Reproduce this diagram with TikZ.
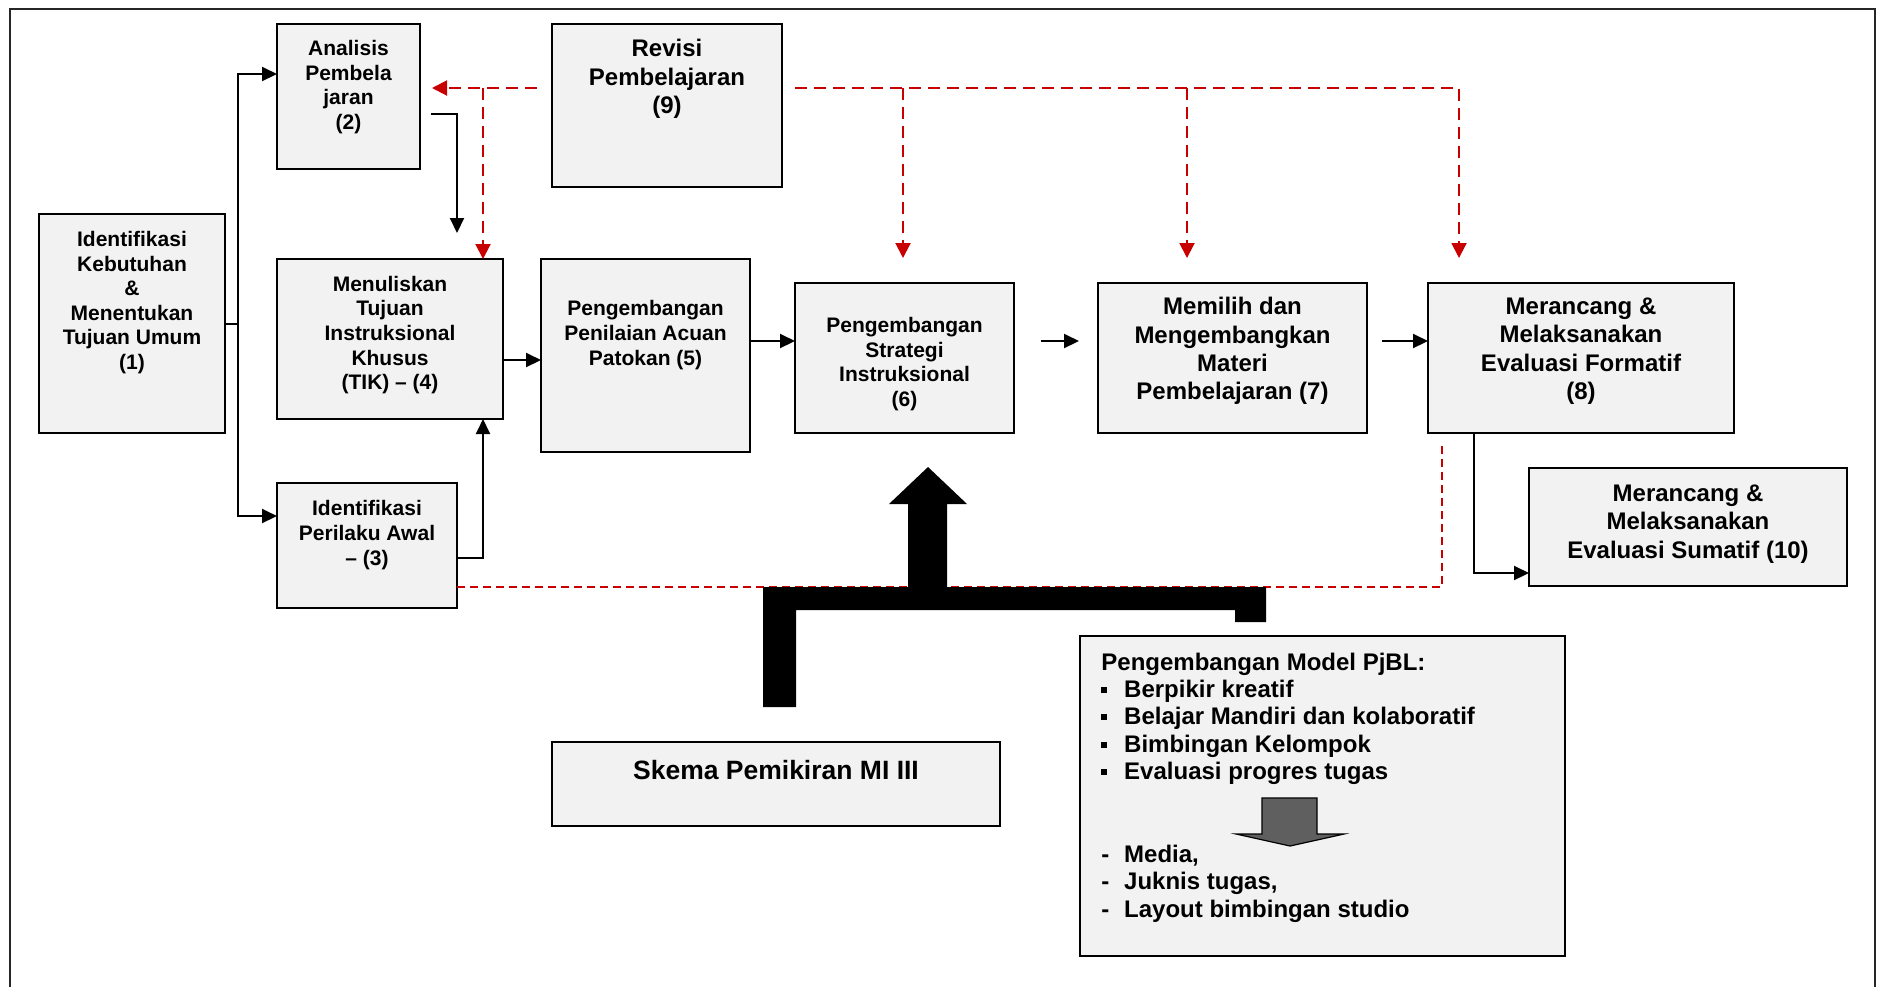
\documentclass[tikz,border=0pt]{standalone}
\usepackage{fontspec}
\setmainfont{Liberation Sans}
\usetikzlibrary{arrows.meta,calc}

\definecolor{boxfill}{HTML}{F2F2F2}
\definecolor{revred}{RGB}{200,0,0}
\definecolor{blockgrey}{HTML}{5F5F5F}

\newcommand\boxfontsmall{\bfseries\fontsize{10.5}{12.3}\selectfont}
\newcommand\boxfontlarge{\bfseries\fontsize{12}{14.2}\selectfont}
\newcommand\listfont{\bfseries\fontsize{12}{13.7}\selectfont}
\newcommand\skemafont{\bfseries\fontsize{13.25}{15}\selectfont}
\newcommand\sqbul{\makebox[11.4pt][l]{\rule[2.2pt]{3pt}{2.7pt}}}
\newcommand\dashbul{\makebox[11.4pt][l]{-}}

\begin{document}
\begin{tikzpicture}[x=0.5pt,y=-0.5pt,
  box/.style={draw=black, line width=1.1pt, fill=boxfill, inner sep=0pt, outer sep=0pt},
  sz/.style 2 args={minimum width=#1*0.5pt, minimum height=#2*0.5pt},
  txt/.style={align=center, inner sep=0pt},
  listline/.style={anchor=base west, inner sep=0pt, font=\listfont},
  wire/.style={line width=1pt},
  conn/.style={wire, -{Triangle[length=7.5pt,width=7pt]}},
  rdash/.style={revred, line width=1pt, dash pattern=on 6pt off 3.5pt},
  rtip/.style={-{Triangle[length=7.5pt,width=7.5pt]}},
  rthin/.style={revred, line width=0.75pt, dash pattern=on 4pt off 2.5pt}]

\useasboundingbox (0,0) rectangle (1877,987);

% outer frame, open at the bottom
\draw[line width=1.2pt, draw=black!85] (10,987) -- (10,9) -- (1875,9) -- (1875,987);

% boxes
\node[box, sz={186}{219}] (b1) at (132,323.5) {};
\node[txt, font=\boxfontsmall] (t1) at (132,302.5)
  {Identifikasi\\Kebutuhan\\\&\\Menentukan\\Tujuan Umum\\(1)};

\node[box, sz={143}{145}] (b2) at (348.5,96.5) {};
\node[txt, font=\boxfontsmall] (t2) at (348.5,87) {Analisis\\Pembela\\jaran\\(2)};

\node[box, sz={230}{163}] (b9) at (667,105.5) {};
\node[txt, font=\boxfontlarge] (t9) at (667,79) {Revisi\\Pembelajaran\\(9)};

\node[box, sz={226}{160}] (b4) at (390,339) {};
\node[txt, font=\boxfontsmall] (t4) at (390,335)
  {Menuliskan\\Tujuan\\Instruksional\\Khusus\\(TIK) – (4)};

\node[box, sz={209}{193}] (b5) at (645.5,355.5) {};
\node[txt, font=\boxfontsmall] (t5) at (645.5,335)
  {Pengembangan\\Penilaian Acuan\\Patokan (5)};

\node[box, sz={219}{150}] (b6) at (904.5,358) {};
\node[txt, font=\boxfontsmall] (t6) at (904.5,364)
  {Pengembangan\\Strategi\\Instruksional\\(6)};

\node[box, sz={269}{150}] (b7) at (1232.5,358) {};
\node[txt, font=\boxfontlarge] (t7) at (1232.5,351)
  {Memilih dan\\Mengembangkan\\Materi\\Pembelajaran (7)};

\node[box, sz={306}{150}] (b8) at (1581,358) {};
\node[txt, font=\boxfontlarge] (t8) at (1581,351)
  {Merancang \&\\Melaksanakan\\Evaluasi Formatif\\(8)};

\node[box, sz={318}{118}] (b10) at (1688,527) {};
\node[txt, font=\boxfontlarge] (t10) at (1688,524)
  {Merancang \&\\Melaksanakan\\Evaluasi Sumatif (10)};

\node[box, sz={180}{125}] (b3) at (367,545.5) {};
\node[txt, font=\boxfontsmall] (t3) at (367,535)
  {Identifikasi\\Perilaku Awal\\– (3)};

\node[box, sz={448}{84}] (bs) at (776,784) {};
\node[txt, font=\skemafont] (ts) at (776,770) {Skema Pemikiran MI III};

\node[box, sz={485}{320}] (bp) at (1322.5,796) {};
\node[listline] (p0) at (1101,670) {Pengembangan Model PjBL:};
\node[listline] (p1) at (1101,697) {\sqbul Berpikir kreatif};
\node[listline] (p2) at (1101,724) {\sqbul Belajar Mandiri dan kolaboratif};
\node[listline] (p3) at (1101,752) {\sqbul Bimbingan Kelompok};
\node[listline] (p4) at (1101,779) {\sqbul Evaluasi progres tugas};
\node[listline] (p5) at (1101,862) {\dashbul Media,};
\node[listline] (p6) at (1101,889) {\dashbul Juknis tugas,};
\node[listline] (p7) at (1101,917) {\dashbul Layout bimbingan studio};

% grey block arrow inside the PjBL box
\draw[fill=blockgrey, draw=black, line width=0.6pt]
  (1262,798) -- (1317,798) -- (1317,834) -- (1344,834) -- (1290,846)
  -- (1236,834) -- (1262,834) -- cycle;

% main flow connectors
\coordinate (trunk) at (238,323.5);
\draw[wire] (b1.east) -- (trunk);
\draw[conn] (trunk) |- ($(b2.west)+(0,-22.5)$);
\draw[conn] (trunk) |- ($(b3.west)+(0,-29.5)$);
\draw[conn] ($(b2.east)+(11,17.5)$) -| ($(b4.north)+(67,-26)$);
\draw[conn] ($(b3.east)+(0,12.5)$) -| ($(b4.south)+(93,0)$);
\draw[conn] ($(b4.east)+(0,21)$) coordinate (a45) -- (a45 -| b5.west);
\draw[conn] ($(b5.east)+(0,-14.5)$) coordinate (a56) -- (a56 -| b6.west);
\draw[conn] ($(b6.east)+(27,-17)$) -- ($(b7.west)+(-19,-17)$);
\draw[conn] ($(b7.east)+(15,-17)$) coordinate (a78) -- (a78 -| b8.west);
\draw[conn] ($(b8.south)+(-107,0)$) |- ($(b10.west)+(0,46)$);

% revision feedback (red dashed)
\coordinate (rL) at ($(b9.west)+(-15,-17.5)$);
\coordinate (rR) at ($(b9.east)+(13,-17.5)$);
\coordinate (d4) at ($(b4.north)+(93,0)$);
\coordinate (d6) at ($(b6.north)+(-1.5,-25)$);
\coordinate (d7) at ($(b7.north)+(-45.5,-25)$);
\coordinate (d8) at ($(b8.north)+(-122,-25)$);
\draw[rdash, rtip] (rL) -- ($(b2.east)+(12,-8.5)$);
\draw[rdash, rtip] (d4 |- rL) -- (d4);
\draw[rdash, rtip] (rR) -| (d8);
\draw[rdash, rtip] (d6 |- rR) -- (d6);
\draw[rdash, rtip] (d7 |- rR) -- (d7);
\draw[rthin] ($(b3.east)+(0,41.5)$) -| ($(b8.south)+(-139,12)$);

% heavy black bracket arrow
\fill[black] (763,707) -- (763,587) -- (908,587) -- (908,504) -- (889,504)
  -- (928,467) -- (967,504) -- (947,504) -- (947,587) -- (1266,587)
  -- (1266,622) -- (1235,622) -- (1235,610) -- (796,610) -- (796,707) -- cycle;

\end{tikzpicture}
\end{document}
